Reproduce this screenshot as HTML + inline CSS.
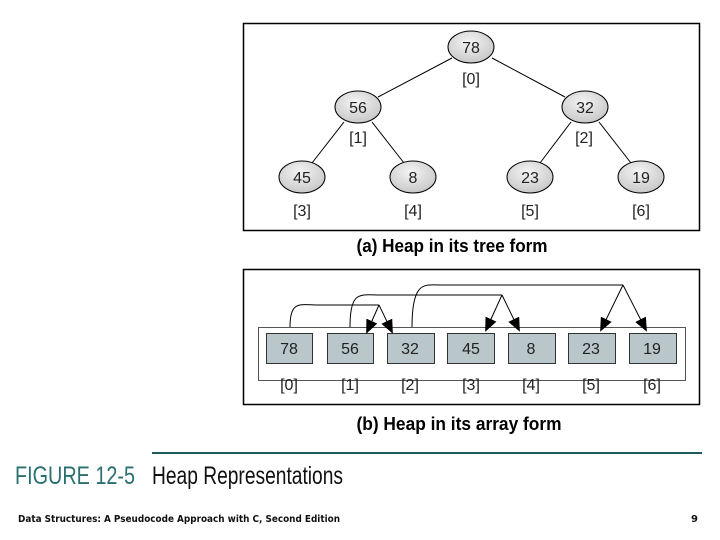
<!DOCTYPE html>
<html><head><meta charset="utf-8"><style>
html,body{margin:0;padding:0;background:#fff;width:720px;height:540px;overflow:hidden}
</style></head><body>
<svg width="720" height="540" viewBox="0 0 720 540" xmlns="http://www.w3.org/2000/svg" font-family="Liberation Sans, sans-serif">
<defs>
<radialGradient id="g" cx="45%" cy="35%" r="65%"><stop offset="0" stop-color="#f4f4f4"/><stop offset="1" stop-color="#c8c8c8"/></radialGradient>
<marker id="a" markerWidth="14" markerHeight="12" refX="12" refY="6" orient="auto" markerUnits="userSpaceOnUse"><path d="M0,0 L14,6 L0,12 z" fill="#000"/></marker>
</defs>
<rect x="243.5" y="23.5" width="456" height="207" fill="#fff" stroke="#000" stroke-width="1.5"/>
<g stroke="#000" stroke-width="1" fill="none">
<line x1="452" y1="58" x2="378" y2="97"/><line x1="492" y1="58" x2="565" y2="97"/>
<line x1="344" y1="122" x2="312" y2="163"/><line x1="372" y1="122" x2="404" y2="163"/>
<line x1="571" y1="122" x2="540" y2="163"/><line x1="599" y1="122" x2="631" y2="163"/>
</g>
<g fill="url(#g)" stroke="#000" stroke-width="1">
<ellipse cx="471" cy="47" rx="23" ry="16"/><ellipse cx="358" cy="107" rx="23" ry="16"/><ellipse cx="585" cy="107" rx="23" ry="16"/>
<ellipse cx="302" cy="177" rx="23" ry="16"/><ellipse cx="413" cy="177" rx="23" ry="16"/><ellipse cx="530" cy="177" rx="23" ry="16"/><ellipse cx="641" cy="177" rx="23" ry="16"/>
</g>
<g font-size="16" text-anchor="middle" fill="#222">
<text x="471" y="53">78</text><text x="358" y="113">56</text><text x="585" y="113">32</text>
<text x="302" y="183">45</text><text x="413" y="183">8</text><text x="530" y="183">23</text><text x="641" y="183">19</text>
<text x="471" y="84">[0]</text><text x="358" y="143">[1]</text><text x="584" y="143">[2]</text>
<text x="302" y="216">[3]</text><text x="413" y="216">[4]</text><text x="530" y="216">[5]</text><text x="641" y="216">[6]</text>
</g>
<text x="452" y="252" font-size="18" font-weight="bold" text-anchor="middle" textLength="191" lengthAdjust="spacingAndGlyphs">(a) Heap in its tree form</text>

<rect x="243.5" y="269.5" width="456" height="135" fill="#fff" stroke="#000" stroke-width="1.5"/>
<rect x="258.5" y="327.5" width="427" height="53" fill="#fff" stroke="#555" stroke-width="1"/>
<g fill="#b9c7cb" stroke="#333" stroke-width="1">
<rect x="266.5" y="333.5" width="46" height="30"/><rect x="327.5" y="333.5" width="46" height="30"/><rect x="387.5" y="333.5" width="47" height="30"/>
<rect x="447.5" y="333.5" width="47" height="30"/><rect x="508.5" y="333.5" width="47" height="30"/><rect x="568.5" y="333.5" width="47" height="30"/><rect x="629.5" y="333.5" width="47" height="30"/>
</g>
<g font-size="16" text-anchor="middle" fill="#222">
<text x="289" y="354">78</text><text x="350" y="354">56</text><text x="410" y="354">32</text><text x="471" y="354">45</text>
<text x="531" y="354">8</text><text x="591" y="354">23</text><text x="652" y="354">19</text>
<text x="289" y="390">[0]</text><text x="350" y="390">[1]</text><text x="410" y="390">[2]</text><text x="471" y="390">[3]</text>
<text x="531" y="390">[4]</text><text x="591" y="390">[5]</text><text x="652" y="390">[6]</text>
</g>
<g stroke="#000" stroke-width="1" fill="none">
<path d="M290,327 C290,300 300,305 318,305 L379,305"/>
<path d="M379,305 L367,332" marker-end="url(#a)"/><path d="M379,305 L392,332" marker-end="url(#a)"/>
<path d="M350,327 C350,290 360,295 380,295 L502,295"/>
<path d="M502,295 L486,330" marker-end="url(#a)"/><path d="M502,295 L519,330" marker-end="url(#a)"/>
<path d="M412,327 C412,280 425,285 440,285 L623,285"/>
<path d="M623,285 L601,330" marker-end="url(#a)"/><path d="M623,285 L646,330" marker-end="url(#a)"/>
</g>
<text x="459" y="430" font-size="18" font-weight="bold" text-anchor="middle" textLength="205" lengthAdjust="spacingAndGlyphs">(b) Heap in its array form</text>

<line x1="152" y1="453" x2="702" y2="453" stroke="#1d5c5c" stroke-width="2"/>
<text x="15" y="484" font-size="25" fill="#2a7070" textLength="120" lengthAdjust="spacingAndGlyphs">FIGURE 12-5</text>
<text x="152" y="484" font-size="25" fill="#111" textLength="191" lengthAdjust="spacingAndGlyphs">Heap Representations</text>
<text x="18" y="522" font-size="10" font-family="DejaVu Sans, sans-serif" font-weight="bold" fill="#111" textLength="322" lengthAdjust="spacingAndGlyphs">Data Structures: A Pseudocode Approach with C, Second Edition</text>
<text x="691" y="522" font-size="10" font-family="DejaVu Sans, sans-serif" font-weight="bold" fill="#111">9</text>
</svg>
</body></html>
